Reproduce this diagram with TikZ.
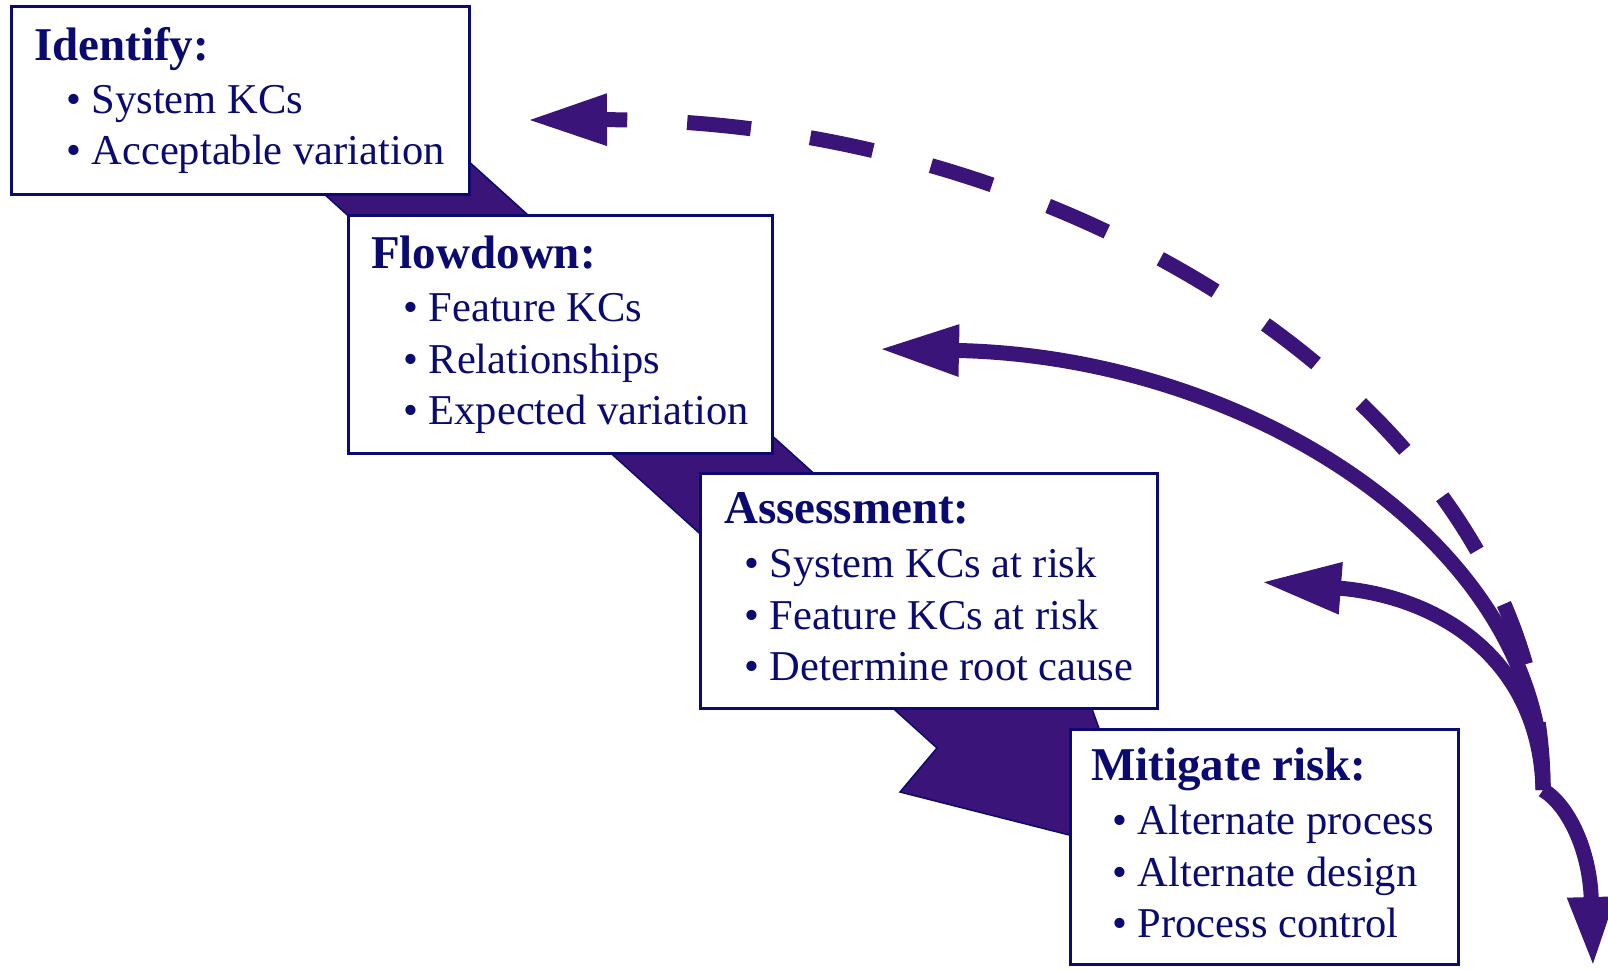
\documentclass[tikz,border=0pt]{standalone}
\usepackage{fontspec}
\setmainfont{Liberation Serif}
\usetikzlibrary{arrows.meta}
\definecolor{boxnavy}{RGB}{10,10,112}
\definecolor{bandpurple}{RGB}{58,20,120}

\begin{document}
\begin{tikzpicture}[x=1pt,y=-1pt,
  stage/.style={draw=boxnavy,line width=2.5pt,fill=white,anchor=north west,inner sep=0pt},
  head/.style={anchor=base west,inner sep=0pt,text=boxnavy,font=\fontsize{47}{56}\selectfont\bfseries},
  item/.style={anchor=base west,inner sep=0pt,text=boxnavy,font=\fontsize{42.5}{51}\selectfont},
  band/.style={fill=bandpurple,draw=boxnavy,line width=1.5pt,line join=miter},
  feedback/.style={draw=bandpurple,line width=15pt,{Triangle[length=80pt,width=48pt]}-},
  loopback/.style={feedback,dash pattern=on 64pt off 60pt,dash phase=40pt}]
\useasboundingbox (0,0) rectangle (1608,969);

% big arrow behind the stages
\draw[band] (250,127) -- (937,748) -- (900,792) -- (1144,854)
  -- (1058,614) -- (1018,658) -- (331,37) -- cycle;

% stages
\node[stage,minimum width=458pt,minimum height=188pt] (identify) at (10,5) {};
\node[head] (identify-head) at ([shift={(24,55)}]identify.north west) {Identify:};
\foreach \txt [count=\i] in {System KCs,Acceptable variation}
  \node[item] (identify-\i) at ([shift={(56,57+51*\i)}]identify.north west) {\textbullet\ \txt};

\node[stage,minimum width=424pt,minimum height=238pt] (flowdown) at (347,214) {};
\node[head] (flowdown-head) at ([shift={(24,54)}]flowdown.north west) {Flowdown:};
\foreach \txt [count=\i] in {Feature KCs,Relationships,Expected variation}
  \node[item] (flowdown-\i) at ([shift={(56,56+51.5*\i)}]flowdown.north west) {\textbullet\ \txt};

\node[stage,minimum width=457pt,minimum height=235pt] (assess) at (699,472) {};
\node[head] (assess-head) at ([shift={(25,51)}]assess.north west) {Assessment:};
\foreach \txt [count=\i] in {System KCs at risk,Feature KCs at risk,Determine root cause}
  \node[item] (assess-\i) at ([shift={(45,54+51.5*\i)}]assess.north west) {\textbullet\ \txt};

\node[stage,minimum width=388pt,minimum height=235pt] (mitigate) at (1069,728) {};
\node[head] (mitigate-head) at ([shift={(22,52)}]mitigate.north west) {Mitigate risk:};
\foreach \txt [count=\i] in {Alternate process,Alternate design,Process control}
  \node[item] (mitigate-\i) at ([shift={(43,55+51.5*\i)}]mitigate.north west) {\textbullet\ \txt};

% feedback loops
\coordinate (merge) at (1543,790);
\coordinate (identify-tip) at (527,120);
\coordinate (flowdown-tip) at (879,349);
\coordinate (assess-tip) at (1261,582);
\coordinate (down-tip) at (1593,967);
\draw[loopback] (identify-tip) .. controls (1080,118) and (1545,420) .. (merge);
\draw[feedback] (flowdown-tip) .. controls (1250,356) and (1545,545) .. (merge);
\draw[feedback] (assess-tip) .. controls (1440,596) and (1540,660) .. (merge);
\draw[draw=bandpurple,line width=15pt,-{Triangle[length=70pt,width=44pt]}]
  (merge) .. controls (1568,805) and (1590,850) .. (down-tip);
\end{tikzpicture}
\end{document}
